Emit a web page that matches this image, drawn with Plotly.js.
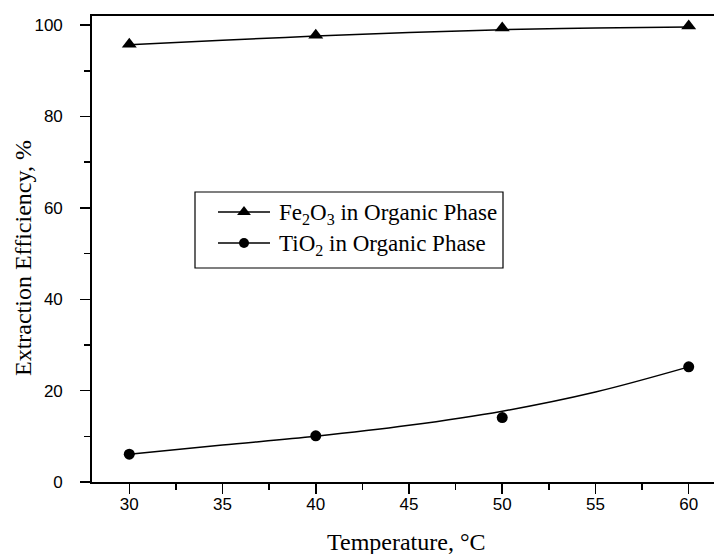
<!DOCTYPE html>
<html>
<head>
<meta charset="utf-8">
<script src="https://cdn.plot.ly/plotly-3.0.1.min.js"></script>
<style>
html,body{margin:0;padding:0;overflow:hidden;background:#fff;width:714px;height:554px;}
#chart{width:726px;height:554px;}
</style>
</head>
<body>
<div id="chart"></div>
<script>
// Measured data points
var temperature = [30, 40, 50, 60];
var fe2o3 = [95.8, 97.8, 99.4, 99.8];
var tio2 = [6.1, 10.1, 14.1, 25.2];

// Fitted curves
var fitT = [30, 35, 40, 45, 50, 55, 60];
var fe2o3Fit = [95.7, 96.7, 97.6, 98.4, 99.0, 99.4, 99.6];
var tio2Fit = [6.1, 8.1, 10.0, 12.4, 15.5, 19.7, 25.2];

var legendNames = ['Fe<sub>2</sub>O<sub>3</sub> in Organic Phase', 'TiO<sub>2</sub> in Organic Phase'];
var legendSymbols = ['triangle-up', 'circle'];
var xTicks = [30, 35, 40, 45, 50, 55, 60];
var yTicks = [0, 20, 40, 60, 80, 100];

// plot area in pixels (used to place the hand-drawn legend box)
var W = 726, H = 554, ML = 92, MR = 0, MT = 16, MB = 72;
var PW = W - ML - MR, PH = H - MT - MB;
function px(x) { return (x - ML) / PW; }
function py(y) { return (H - MB - y) / PH; }

var lineStyle = {color: '#000', width: 1.5, shape: 'spline', smoothing: 1};

var traces = [
  {x: fitT, y: fe2o3Fit, mode: 'lines', line: lineStyle, showlegend: false, hoverinfo: 'skip'},
  {x: fitT, y: tio2Fit, mode: 'lines', line: lineStyle, showlegend: false, hoverinfo: 'skip'},
  {x: temperature, y: fe2o3, mode: 'markers', marker: {symbol: 'triangle-up', size: 13, color: '#000'}, showlegend: false},
  {x: temperature, y: tio2, mode: 'markers', marker: {symbol: 'circle', size: 11, color: '#000'}, showlegend: false}
];

// legend (drawn by hand to match the reference layout)
var legBox = {x0: 195, y0: 192, x1: 503, y1: 268};
var rowY = [212, 243];
var symX0 = 218, symX1 = 270, symXc = 244, textX = 277;

var shapes = [
  {type: 'rect', xref: 'paper', yref: 'paper', x0: px(legBox.x0), x1: px(legBox.x1), y0: py(legBox.y1), y1: py(legBox.y0),
   line: {color: '#000', width: 1.2}, fillcolor: '#fff', layer: 'below'}
];
var annotations = [];
rowY.forEach(function (ry, i) {
  shapes.push({type: 'line', xref: 'paper', yref: 'paper', x0: px(symX0), x1: px(symX1), y0: py(ry), y1: py(ry),
               line: {color: '#000', width: 1.5}, layer: 'below'});
  traces.push({x: [px(symXc)], y: [py(ry)], xaxis: 'x2', yaxis: 'y2', mode: 'markers',
               marker: {symbol: legendSymbols[i], size: i === 0 ? 12 : 10, color: '#000'}, showlegend: false, hoverinfo: 'skip'});
  annotations.push({text: legendNames[i], xref: 'paper', yref: 'paper', x: px(textX), y: py(ry + 2), xanchor: 'left', yanchor: 'middle',
                    showarrow: false, font: {family: 'Liberation Serif, Times New Roman, serif', size: 23, color: '#000'}});
});

var tickFont = {family: 'Liberation Sans, Arial, sans-serif', size: 17, color: '#000'};
var titleFont = {family: 'Liberation Serif, Times New Roman, serif', size: 24, color: '#000'};

annotations.push(
  {text: 'Temperature, °C', xref: 'paper', yref: 'paper', x: px(406), y: py(542), xanchor: 'center', yanchor: 'middle', showarrow: false, font: titleFont},
  {text: 'Extraction Efficiency, %', xref: 'paper', yref: 'paper', x: px(22.5), y: py(258.5), xanchor: 'center', yanchor: 'middle', textangle: -90, showarrow: false, font: titleFont}
);

var layout = {
  width: W, height: H,
  margin: {l: ML, r: MR, t: MT, b: MB},
  paper_bgcolor: '#fff', plot_bgcolor: '#fff',
  showlegend: false,
  xaxis: {
    range: [28, 62], tickvals: xTicks, ticktext: xTicks.map(String),
    ticks: 'outside', ticklen: 10, tickwidth: 1.5, tickcolor: '#000',
    minor: {dtick: 2.5, tick0: 27.5, ticks: 'outside', ticklen: 6, tickwidth: 1.5, tickcolor: '#000'},
    showline: true, linecolor: '#000', linewidth: 1.8, mirror: true,
    showgrid: false, zeroline: false, tickfont: tickFont, ticklabelstandoff: -4
  },
  yaxis: {
    range: [0, 102], tickvals: yTicks, ticktext: yTicks.map(String),
    ticks: 'outside', ticklen: 10, tickwidth: 1.5, tickcolor: '#000',
    minor: {dtick: 10, tick0: 0, ticks: 'outside', ticklen: 6, tickwidth: 1.5, tickcolor: '#000'},
    showline: true, linecolor: '#000', linewidth: 1.8, mirror: true,
    showgrid: false, zeroline: false, tickfont: tickFont, ticklabelstandoff: 14
  },
  xaxis2: {overlaying: 'x', range: [0, 1], visible: false, fixedrange: true},
  yaxis2: {overlaying: 'y', range: [0, 1], visible: false, fixedrange: true},
  shapes: shapes,
  annotations: annotations
};

Plotly.newPlot('chart', traces, layout, {displayModeBar: false, staticPlot: true});
</script>
</body>
</html>
